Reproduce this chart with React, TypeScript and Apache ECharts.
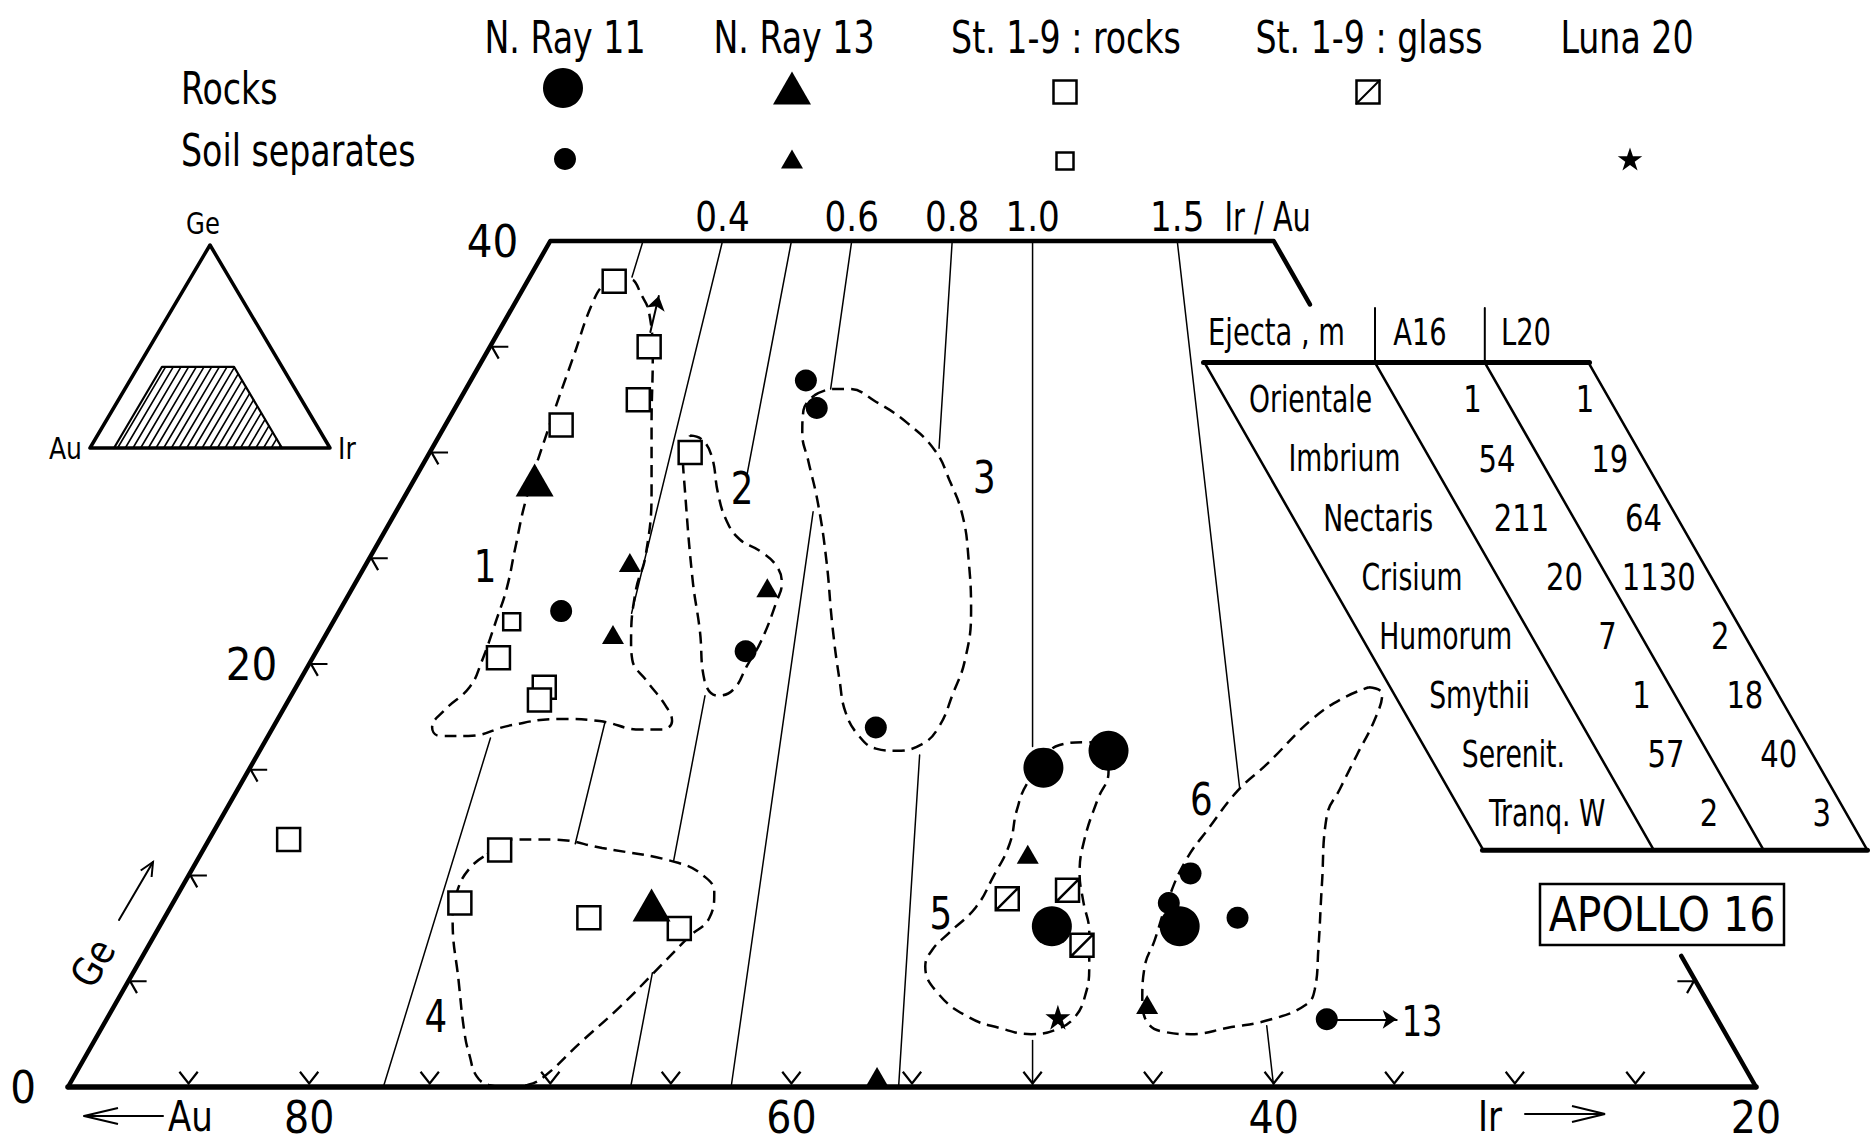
import React, { useEffect, useRef } from "react";
import * as echarts from "echarts";

const FONT = "'Liberation Sans Narrow', 'DejaVu Sans Condensed', 'Liberation Sans', Arial, sans-serif";

// ---------------- data: compositions as [Au %, Ge %]  (Ir % = 100 - Au - Ge) ----------------
const nRay11Rocks = [[42.0, 15.1], [38.9, 15.9], [45.4, 7.6], [40.1, 7.6]];
const nRay11Soils = [[42.7, 33.4], [42.9, 32.1], [58.3, 22.5], [51.6, 20.6], [48.0, 17.0], [38.4, 10.1], [40.0, 8.7], [37.5, 8.0], [36.2, 3.2]];
const nRay13Rocks = [[56.3, 28.7], [61.5, 8.6]];
const nRay13Soils = [[54.3, 24.8], [49.2, 23.6], [56.7, 21.4], [44.7, 11.0], [43.3, 3.9], [56.2, 0.5]];
const st19Rocks = [[48.3, 38.1], [48.4, 35.0], [50.1, 32.5], [53.9, 31.3], [49.2, 30.0], [62.0, 20.3], [60.8, 18.9], [61.3, 18.3], [75.0, 11.7], [66.5, 11.2], [69.4, 8.7], [64.4, 8.0], [60.9, 7.5]];
const st19Soils = [[60.6, 22.0]];
const st19Glass = [[46.6, 8.9], [43.9, 9.3], [44.6, 6.7]];
const luna20Soils = [[47.3, 3.3]];

// dashed envelopes (groups 1-6), [Au, Ge]
const envelope1 = [[48.3, 38.1], [47.6, 38.2], [47.5, 37.4], [47.6, 36.6], [48.5, 34.5], [50.1, 31.4], [51.7, 28.2], [53.5, 25.1], [54.7, 23.5], [56.1, 21.1], [56.5, 20.2], [56.4, 19.2], [56.2, 18.0], [56.3, 17.3], [56.9, 16.9], [57.8, 16.9], [59.3, 17.3], [60.9, 17.4], [63.1, 17.1], [65.1, 16.6], [66.3, 16.6], [66.4, 17.0], [65.5, 17.8], [63.9, 18.9], [62.8, 20.1], [61.1, 22.2], [60.0, 23.6], [58.7, 25.5], [57.1, 27.8], [54.3, 31.4], [51.8, 34.5], [49.6, 37.2], [48.7, 38.0]];
const envelope2 = [[48.8, 30.8], [48.4, 30.6], [48.4, 29.8], [49.0, 28.1], [49.3, 26.8], [49.2, 25.9], [48.6, 25.3], [48.3, 24.6], [48.5, 23.8], [49.1, 23.0], [50.7, 21.1], [51.9, 19.9], [53.0, 18.8], [53.8, 18.5], [54.0, 19.2], [53.0, 21.6], [52.1, 24.0], [50.1, 28.7], [49.6, 29.8]];
const envelope3 = [[42.7, 32.7], [41.8, 33.0], [41.1, 33.0], [40.3, 32.4], [39.5, 31.4], [39.0, 30.1], [39.1, 28.7], [39.4, 27.0], [40.2, 24.9], [41.3, 22.5], [42.7, 20.2], [44.0, 18.6], [45.4, 17.0], [46.5, 16.2], [47.7, 15.9], [48.5, 16.0], [48.9, 16.6], [48.9, 17.7], [48.4, 19.2], [47.4, 21.8], [46.1, 24.9], [45.1, 27.6], [44.5, 29.6], [44.1, 30.9], [43.5, 32.0]];
const envelope4 = [[67.1, 11.0], [66.0, 11.7], [64.1, 11.7], [62.2, 11.3], [59.4, 10.6], [58.6, 9.9], [58.6, 9.2], [59.4, 8.0], [60.7, 7.1], [62.6, 5.7], [65.2, 3.8], [67.7, 2.1], [70.0, 0.5], [70.9, 0.1], [71.8, 0.0], [72.5, 0.1], [72.8, 0.5], [72.6, 1.5], [72.3, 2.5], [71.3, 5.0], [70.1, 7.9], [69.2, 9.3], [68.1, 10.4]];
const envelope5 = [[41.9, 15.2], [41.0, 16.1], [39.6, 16.3], [38.9, 15.9], [39.4, 14.9], [40.5, 13.6], [42.0, 11.7], [43.0, 10.1], [43.5, 8.8], [44.0, 7.3], [44.8, 5.7], [45.6, 4.4], [46.6, 3.3], [47.7, 2.7], [48.8, 2.5], [50.0, 2.8], [51.0, 3.3], [51.7, 4.4], [51.6, 5.7], [50.9, 6.5], [49.8, 7.3], [48.1, 8.5], [46.7, 9.9], [45.2, 11.5], [44.1, 13.1], [43.0, 14.4]];
const envelope6 = [[26.6, 18.9], [26.2, 18.6], [27.1, 17.4], [28.7, 15.7], [30.2, 14.1], [31.4, 12.8], [33.2, 9.6], [34.9, 6.5], [36.0, 4.6], [36.7, 3.9], [38.5, 3.2], [40.5, 2.8], [42.2, 2.5], [43.2, 2.6], [43.7, 3.0], [43.4, 4.1], [42.5, 5.7], [41.5, 6.9], [40.0, 8.8], [38.3, 10.7], [36.5, 12.3], [34.5, 14.0], [32.6, 15.3], [29.7, 17.4], [27.9, 18.4]];
const envelopeNames = ["1", "2", "3", "4", "5", "6"];
const envelopeLabelAt = [[60.4, 24.6], [47.9, 28.3], [37.6, 28.8], [73.1, 3.3], [49.7, 8.2], [36.2, 13.6]];

// Ir/Au reference lines and the Ge ranges in which each one is drawn
const irAuRatios = [0.3, 0.4, 0.5, 0.6, 0.8, 1.0, 1.5];
const irAuLabels = ["", "0.4", "", "0.6", "0.8", "1.0", "1.5"];
const irAuVisibleGe = [
  [[40, 38.3], [16.5, 0]],
  [[40, 22.4], [17.2, 11.5]],
  [[40, 29.0], [18.5, 10.7], [5.4, 0]],
  [[40, 33.0], [27.2, 0]],
  [[40, 30.2], [15.7, 0]],
  [[40, 16.1], [2.2, 0]],
  [[40, 14.1], [2.9, 0]],
];

// axes
const auTicks = [85, 80, 75, 70, 65, 60, 55, 50, 45, 40, 35, 30, 25];
const auTickLabels = [80, 60, 40, 20];
const geTicks = [5, 10, 15, 20, 25, 30, 35];
const geTickLabels = [0, 20, 40];
const rightEdgeTicksGe = [5];
const rightEdgeVisibleGe = [[40, 37.0], [6.2, 0]];

// annotations
const offScaleFrom = [36.2, 3.2];
const offScaleTo = [33.3, 3.2];
const offScaleLabel = "13";
const smallArrowFrom = [48.0, 35.7];
const smallArrowTo = [46.8, 37.4];

// legend
const legendSources = ["N. Ray 11", "N. Ray 13", "St. 1-9 : rocks", "St. 1-9 : glass", "Luna 20"];
const legendRows = ["Rocks", "Soil separates"];

// ejecta table (m)
const ejectaHeader = ["Ejecta , m", "A16", "L20"];
const ejectaBasins = ["Orientale", "Imbrium", "Nectaris", "Crisium", "Humorum", "Smythii", "Serenit.", "Tranq. W"];
const ejectaA16 = ["1", "54", "211", "20", "7", "1", "57", "2"];
const ejectaL20 = ["1", "19", "64", "1130", "2", "18", "40", "3"];

// ---------------- helpers ----------------
const toXY = (p: number[]) => [100 - p[0] - p[1] / 2, p[1]];
const ratioXY = (r: number, ge: number) => {
  const ir = (r * (100 - ge)) / (1 + r);
  return [ir + ge / 2, ge];
};
const STAR = [[50, 0], [61.8, 35.1], [98.9, 35.1], [68.9, 56.9], [80.3, 91.9], [50, 70.2], [19.7, 91.9], [31.1, 56.9], [1.1, 35.1], [38.2, 35.1]];
const STAR_PATH = "path://M" + STAR.map((p) => p.join(",")).join("L") + "Z";
const GLASS_PATH = "path://M0,0L10,0L10,10L0,10Z M0,10L10,0";

function linesSeries(data: any[], width: number, extra: any = {}, grid = 0) {
  return {
    type: "lines",
    coordinateSystem: "cartesian2d",
    xAxisIndex: grid,
    yAxisIndex: grid,
    polyline: true,
    silent: true,
    clip: false,
    z: 2,
    lineStyle: { color: "#000", width, opacity: 1, cap: "round", join: "round" },
    data,
    ...extra,
  };
}

function scatter(data: number[][], symbol: string, size: any, filled: boolean, z = 10) {
  return {
    type: "scatter",
    xAxisIndex: 0,
    yAxisIndex: 0,
    symbol,
    symbolSize: size,
    clip: false,
    silent: true,
    z,
    itemStyle: filled
      ? { color: "#000", opacity: 1 }
      : { color: "#fff", borderColor: "#000", borderWidth: 2.5, opacity: 1 },
    data: data.map(toXY),
  };
}

function buildOption() {
  const frame = [
    { coords: [toXY([20, 37.0]), toXY([20, 40]), toXY([50, 40]), toXY([90, 0])] },
  ];
  const bottom = [{ coords: [toXY([90, 0]), toXY([20, 0])] }];
  const rightLow = [{ coords: rightEdgeVisibleGe.slice(1).flatMap((s) => [toXY([20, s[0]]), toXY([20, s[1]])]) }];

  const ratioSegs: any[] = [];
  irAuRatios.forEach((r, i) => {
    irAuVisibleGe[i].forEach((s) => ratioSegs.push({ coords: [ratioXY(r, s[0]), ratioXY(r, s[1])] }));
  });

  const ticks: any[] = [];
  auTicks.forEach((au) => {
    const x = 100 - au;
    ticks.push({ coords: [[x - 0.38, 0.72], [x, 0.17], [x + 0.38, 0.72]] });
  });
  geTicks.forEach((ge) => {
    const [x, y] = toXY([90 - ge, ge]);
    const vx = x + 0.08;
    ticks.push({ coords: [[vx + 0.68, y], [vx, y], [vx + 0.28, y - 0.56]] });
  });
  rightEdgeTicksGe.forEach((ge) => {
    const [x, y] = toXY([20, ge]);
    const vx = x - 0.08;
    ticks.push({ coords: [[vx - 0.68, y], [vx, y], [vx - 0.28, y - 0.56]] });
  });

  const envelopes = [envelope1, envelope2, envelope3, envelope4, envelope5, envelope6].map((env) => ({
    type: "line",
    xAxisIndex: 0,
    yAxisIndex: 0,
    data: [...env, env[0]].map(toXY),
    smooth: 0.45,
    showSymbol: false,
    symbol: "none",
    silent: true,
    clip: false,
    z: 3,
    lineStyle: { color: "#000", width: 2.5, type: [12, 7] },
  }));

  const arrows = [
    { coords: [toXY(offScaleFrom), toXY(offScaleTo)] },
    { coords: [toXY(smallArrowFrom), toXY(smallArrowTo)] },
  ];

  // inset triangle hatching (constant-Ir strokes across the plotted field)
  const hatch: any[] = [];
  for (let ir = 11.5; ir < 80; ir += 3.2) {
    const top = Math.min(40, 80 - ir);
    hatch.push({ coords: [[ir, 0], [ir + top / 2, top]] });
  }

  return {
    animation: false,
    backgroundColor: "#fff",
    grid: [
      { left: 68, right: 114, top: 241, bottom: 57 },
      { left: 90, right: 1540, top: 245, bottom: 696 },
    ],
    xAxis: [
      { type: "value", min: 10, max: 80, show: false, gridIndex: 0 },
      { type: "value", min: 0, max: 100, show: false, gridIndex: 1 },
    ],
    yAxis: [
      { type: "value", min: 0, max: 40, show: false, gridIndex: 0 },
      { type: "value", min: 0, max: 100, show: false, gridIndex: 1 },
    ],
    series: [
      linesSeries(ratioSegs, 1.5),
      linesSeries(frame, 4.5, { z: 4 }),
      linesSeries(bottom, 5.5, { z: 4 }),
      linesSeries(rightLow, 4.5, { z: 4 }),
      linesSeries(ticks, 2.2, { z: 4, lineStyle: { color: "#000", width: 2.2, opacity: 1, cap: "butt", join: "miter" } }),
      ...envelopes,
      linesSeries(arrows, 2, { polyline: false, symbol: ["none", "arrow"], symbolSize: [9, 14], z: 6 }),
      scatter(st19Rocks, "rect", 23, false),
      scatter(st19Soils, "rect", 17, false),
      scatter(st19Glass, GLASS_PATH, 23, false),
      scatter(nRay11Rocks, "circle", 40, true),
      scatter(nRay11Soils, "circle", 22, true),
      scatter(nRay13Rocks, "triangle", [38, 33], true),
      scatter(nRay13Soils, "triangle", [22, 19], true),
      scatter(luna20Soils, STAR_PATH, 25, true),
      // inset
      linesSeries(hatch, 1.6, {}, 1),
      linesSeries([{ coords: [[10, 0], [30, 40], [60, 40], [80, 0]] }], 2.2, {}, 1),
      linesSeries([{ coords: [[0, 0], [100, 0], [50, 100], [0, 0]] }], 3.5, { z: 4 }, 1),
    ],
  };
}

function txt(text: string, x: number, y: number, size: number, align = "center", sx = 1, extra: any = {}) {
  return {
    type: "text",
    x,
    y,
    scaleX: sx,
    z: 100,
    silent: true,
    style: {
      text,
      fontSize: size,
      fontFamily: FONT,
      fill: "#000",
      align,
      verticalAlign: "middle",
      textAlign: align,
      textVerticalAlign: "middle",
    },
    ...extra,
  };
}
function seg(x1: number, y1: number, x2: number, y2: number, w: number) {
  return { type: "line", z: 100, silent: true, shape: { x1, y1, x2, y2 }, style: { stroke: "#000", lineWidth: w, lineCap: "round" } };
}
function poly(points: number[][], w: number) {
  return { type: "polyline", z: 100, silent: true, shape: { points }, style: { stroke: "#000", lineWidth: w, fill: null } };
}

function buildGraphic(chart: any) {
  const px = (p: number[], gi = 0) => chart.convertToPixel({ gridIndex: gi }, p) as number[];
  const g: any[] = [];

  // Ir/Au labels along the top
  irAuRatios.forEach((r, i) => {
    if (!irAuLabels[i]) return;
    const [x, y] = px(ratioXY(r, 40));
    g.push(txt(irAuLabels[i], x, y - 24, 40, "center", 0.95));
  });
  {
    const [x, y] = px(toXY([20, 40]));
    g.push(txt("Ir / Au", x - 6, y - 24, 40, "center", 0.8));
  }
  // Ge labels on the left edge
  geTickLabels.forEach((ge) => {
    const [x, y] = px(toXY([90 - ge, ge]));
    g.push(txt(String(ge), x - 32, y, 45, "right"));
  });
  // Au labels on the bottom
  auTickLabels.forEach((au) => {
    const [x, y] = px(toXY([au, 0]));
    g.push(txt(String(au), x, y + 30, 44));
  });
  // envelope numbers
  envelopeNames.forEach((n, i) => {
    const [x, y] = px(toXY(envelopeLabelAt[i]));
    g.push(txt(n, x, y, 44, "center", 0.9));
  });
  // off-scale label
  {
    const [x, y] = px(toXY(offScaleTo));
    g.push(txt(offScaleLabel, x + 5, y + 2, 42, "left", 0.85));
  }
  // axis titles
  g.push(seg(84, 1116, 163, 1116, 2));
  g.push(poly([[118, 1108], [84, 1116], [118, 1124]], 2));
  g.push(txt("Au", 168, 1116, 42, "left", 0.9));
  g.push(txt("Ir", 1478, 1116, 42, "left", 0.9));
  g.push(seg(1525, 1114, 1604, 1114, 2));
  g.push(poly([[1572, 1106], [1605, 1114], [1572, 1122]], 2));
  g.push(seg(119, 920, 153, 862, 2));
  g.push(poly([[140.7, 870.5], [153, 862], [151.6, 877]], 2));
  g.push(txt("Ge", 93, 963, 40, "center", 0.95, { rotation: Math.PI / 3 }));

  // inset labels
  {
    const [ax, ay] = px([50, 100], 1);
    g.push(txt("Ge", ax - 7, ay - 21, 30, "center", 0.9));
    const [lx, ly] = px([0, 0], 1);
    g.push(txt("Au", lx - 8, ly, 31, "right", 0.9));
    const [rx, ry] = px([100, 0], 1);
    g.push(txt("Ir", rx + 8, ry, 31, "left", 0.9));
  }

  // legend
  const colX = [565, 794, 1066, 1369, 1627];
  legendSources.forEach((s, i) => g.push(txt(s, colX[i], 38, 44, "center", 0.84)));
  g.push(txt(legendRows[0], 181, 89, 44, "left", 0.84));
  g.push(txt(legendRows[1], 181, 151, 44, "left", 0.84));
  const rockY = 88;
  const soilY = 159;
  g.push({ type: "circle", z: 100, silent: true, shape: { cx: 563, cy: rockY, r: 20 }, style: { fill: "#000" } });
  g.push({ type: "circle", z: 100, silent: true, shape: { cx: 565, cy: soilY, r: 11 }, style: { fill: "#000" } });
  const tri = (cx: number, cy: number, w: number, h: number) => ({
    type: "polygon", z: 100, silent: true,
    shape: { points: [[cx - w / 2, cy + h / 2], [cx, cy - h / 2], [cx + w / 2, cy + h / 2]] },
    style: { fill: "#000" },
  });
  g.push(tri(792, rockY, 38, 33));
  g.push(tri(792, soilY, 22, 19));
  const sq = (cx: number, cy: number, s: number) => ({
    type: "rect", z: 100, silent: true,
    shape: { x: cx - s / 2, y: cy - s / 2, width: s, height: s },
    style: { fill: "#fff", stroke: "#000", lineWidth: 2.5 },
  });
  g.push(sq(1065, 92, 23));
  g.push(sq(1065, 161, 17));
  g.push(sq(1368, 92, 23));
  g.push(seg(1368 - 11.5, 92 + 11.5, 1368 + 11.5, 92 - 11.5, 2));
  g.push({
    type: "polygon", z: 100, silent: true,
    shape: { points: STAR.map((p) => [1630 + (p[0] - 50) * 0.25, 160 + (p[1] - 50) * 0.25]) },
    style: { fill: "#000" },
  });

  // ejecta table
  const top = 362.6;
  const bot = 850.3;
  const slope = 0.572;
  const xs = [1204.5, 1375, 1484.8, 1588.5];
  const dx = (bot - top) * slope;
  g.push(seg(xs[0] - 1, top, xs[3] + 1, top, 5));
  g.push(seg(xs[0] + dx - 1, bot, xs[3] + dx, bot, 5));
  xs.forEach((x) => g.push(seg(x, top, x + dx, bot, 2.5)));
  g.push(seg(xs[1], 308, xs[1], top, 2));
  g.push(seg(xs[2], 308, xs[2], top, 2));
  g.push(txt(ejectaHeader[0], 1208, 332, 38, "left", 0.8));
  g.push(txt(ejectaHeader[1], 1420, 332, 38, "center", 0.8));
  g.push(txt(ejectaHeader[2], 1526, 332, 38, "center", 0.8));
  ejectaBasins.forEach((name, i) => {
    const y = 399 + i * 59.1;
    const off = (y - top) * slope;
    g.push(txt(name, (xs[0] + xs[1]) / 2 + off, y, 38, "center", 0.78));
    g.push(txt(ejectaA16[i], xs[2] + off - 24, y, 38, "right", 0.85));
    g.push(txt(ejectaL20[i], xs[3] + off - 15, y, 38, "right", 0.85));
  });

  // APOLLO 16 box
  g.push({ type: "rect", z: 100, silent: true, shape: { x: 1540, y: 884, width: 244, height: 61 }, style: { fill: "#fff", stroke: "#000", lineWidth: 2.5 } });
  g.push(txt("APOLLO 16", 1662, 915, 48, "center", 0.95));
  return g;
}

export default function App() {
  const ref = useRef<HTMLDivElement>(null);
  useEffect(() => {
    if (!ref.current) return;
    const chart = echarts.init(ref.current, null, { renderer: "svg" });
    chart.setOption(buildOption() as any);
    chart.setOption({ graphic: buildGraphic(chart) } as any);
    return () => chart.dispose();
  }, []);
  return (
    <div
      ref={ref}
      style={{ position: "absolute", left: 0, top: 0, width: 1870, height: 1144, background: "#fff" }}
    />
  );
}
